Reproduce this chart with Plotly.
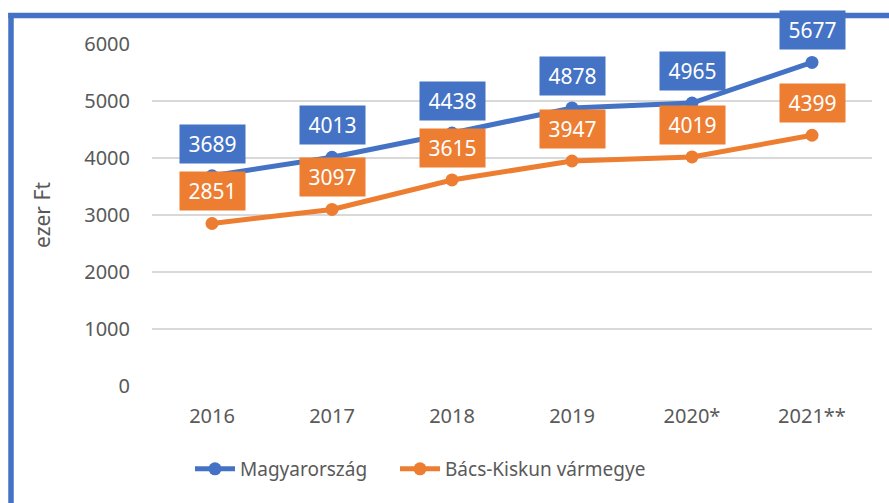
import plotly.graph_objects as go

years = ["2016", "2017", "2018", "2019", "2020*", "2021**"]
magyarorszag = [3689, 4013, 4438, 4878, 4965, 5677]
bacs_kiskun = [2851, 3097, 3615, 3947, 4019, 4399]
series_names = ["Magyarország", "Bács-Kiskun vármegye"]
colors = ["#4472C4", "#ED7D31"]
y_ticks = [0, 1000, 2000, 3000, 4000, 5000, 6000]

FONT = "'Noto Sans', 'Open Sans', sans-serif"
GRAY = "#595959"

fig = go.Figure()
for name, vals, col, lg in zip(series_names, [magyarorszag, bacs_kiskun], colors,
                               ["legend", "legend2"]):
    fig.add_trace(go.Scatter(
        x=list(range(len(years))), y=vals, name=name, mode="lines+markers",
        line=dict(color=col, width=5),
        marker=dict(color=col, size=13),
        legend=lg,
    ))

annotations = []
for vals, col in zip([magyarorszag, bacs_kiskun], colors):
    for i, v in enumerate(vals):
        annotations.append(dict(
            x=i, y=v, xref="x", yref="y", text=str(v), showarrow=False,
            yshift=32, bgcolor=col, width=61, height=34, borderpad=2,
            font=dict(family=FONT, size=21, color="white"),
        ))

L, R, T, B = 152, 17, 44, 117
W, H = 889, 503
pw, ph = W - L - R, H - T - B
def px(x):
    return (x - L) / pw
def py(y):
    return (H - B - y) / ph

shapes = [
    dict(type="line", xref="paper", yref="paper", x0=px(11), x1=px(11),
         y0=py(13), y1=py(520), line=dict(color="#4472C4", width=5.5)),
    dict(type="line", xref="paper", yref="paper", x0=px(8.3), x1=px(900),
         y0=py(15.5), y1=py(15.5), line=dict(color="#4472C4", width=5.5)),
]

legend_common = dict(orientation="h", xanchor="left", y=-0.187, yanchor="top",
                     font=dict(size=19, color=GRAY), itemwidth=40,
                     bgcolor="rgba(0,0,0,0)")

fig.update_layout(
    width=W, height=H,
    margin=dict(l=L, r=R, t=T, b=B),
    paper_bgcolor="white", plot_bgcolor="white",
    font=dict(family=FONT, color=GRAY, size=20),
    showlegend=True,
    legend=dict(x=px(190), **legend_common),
    legend2=dict(x=px(395), **legend_common),
    annotations=annotations,
    shapes=shapes,
    xaxis=dict(range=[-0.5, 5.5], tickvals=list(range(len(years))), ticktext=years,
               showgrid=False, showline=False, zeroline=False,
               ticks="", ticklabelstandoff=16,
               tickfont=dict(size=20, color=GRAY), fixedrange=True),
    yaxis=dict(range=[0, 6000], tickvals=y_ticks, showgrid=True, gridcolor="#D9D9D9",
               gridwidth=1.5, zeroline=False, showline=False, ticks="",
               ticklabelstandoff=21,
               tickfont=dict(size=20, color=GRAY),
               title=dict(text="ezer Ft", font=dict(size=21, color=GRAY), standoff=27)),
)

fig.write_html("out.html")
